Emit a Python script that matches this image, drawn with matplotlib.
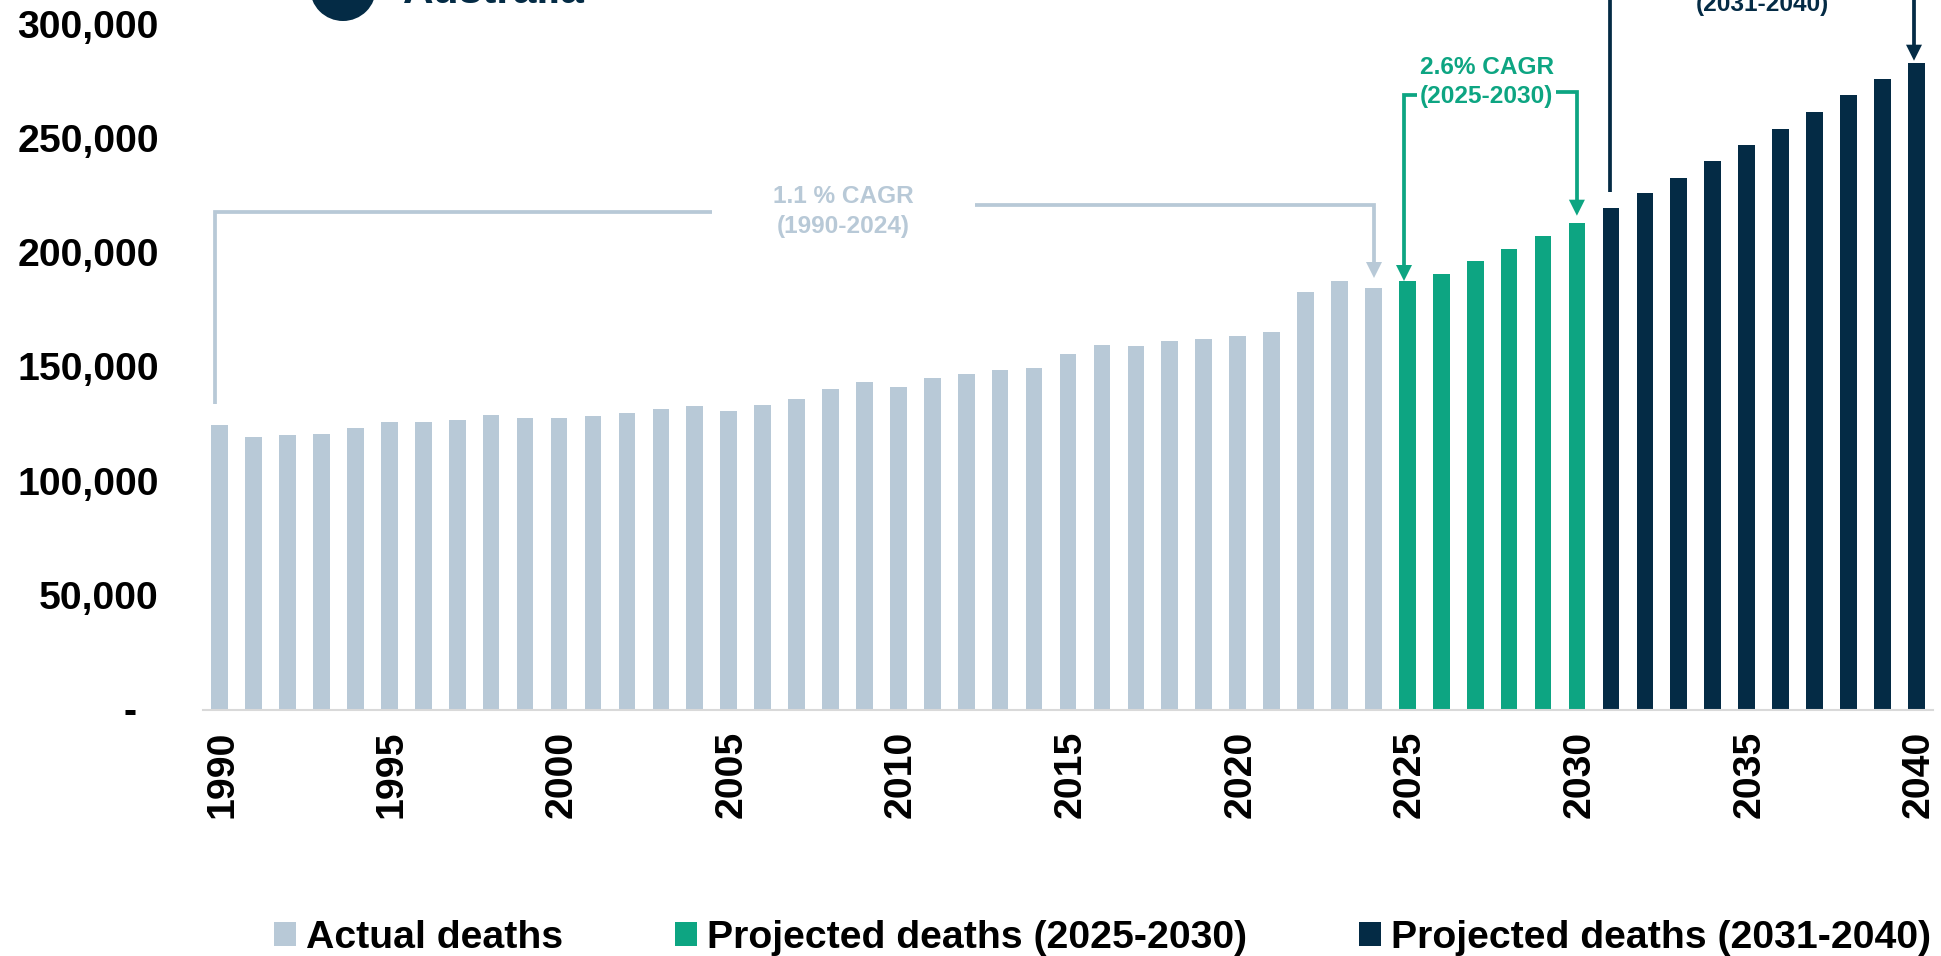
import matplotlib
matplotlib.use('Agg')
import matplotlib.pyplot as plt
import numpy as np
from matplotlib.lines import Line2D
from matplotlib.patches import Ellipse, Polygon
from matplotlib.transforms import Affine2D, ScaledTranslation

plt.rcParams['font.family'] = ['Liberation Sans', 'DejaVu Sans']
plt.rcParams['font.weight'] = 'bold'

years_actual = list(range(1990, 2025))
actual_deaths = [124900, 119500, 120500, 121000, 123300, 126000, 126200, 127000, 129000, 127900,
                 128000, 128800, 130000, 132000, 133000, 131000, 133700, 136000, 140500, 143500,
                 141300, 145300, 147200, 149000, 150000, 155800, 159700, 159200, 161500, 162500,
                 164000, 165500, 183100, 187900, 184700]
years_mid = list(range(2025, 2031))
mid_deaths = [188000, 191000, 196500, 201800, 207500, 213400]
years_late = list(range(2031, 2041))
late_deaths = [219700, 226400, 233200, 240300, 247500, 254600, 262000, 269300, 276400, 283500]

y_ticks = [0, 50000, 100000, 150000, 200000, 250000, 300000]
y_labels = ['-', '50,000', '100,000', '150,000', '200,000', '250,000', '300,000']
x_ticks = list(range(1990, 2041, 5))

GREY = '#b8c9d7'
GREEN = '#0da582'
NAVY = '#042b45'
W, H = 1941, 956
TICK_SIZE = 28.3

fig = plt.figure(figsize=(W / 100, H / 100), dpi=100)
ax = fig.add_axes([203.4 / W, (H - 710) / H, (1933.3 - 203.4) / W, 710 / H])

ax.bar(years_actual, actual_deaths, width=0.49, color=GREY, label='Actual deaths')
ax.bar(years_mid, mid_deaths, width=0.49, color=GREEN, label='Projected deaths (2025-2030)')
ax.bar(years_late, late_deaths, width=0.49, color=NAVY, label='Projected deaths (2031-2040)')

ax.set_xlim(1989.52, 2040.5)
ax.set_ylim(0, 300000 * 710 / 685)
for side in ['top', 'right', 'left']:
    ax.spines[side].set_visible(False)
ax.spines['bottom'].set_color('#d9d9d9')
ax.spines['bottom'].set_linewidth(1.5)

ax.set_yticks(y_ticks, y_labels, fontsize=TICK_SIZE)
ax.set_xticks(x_ticks, [str(y) for y in x_ticks], fontsize=TICK_SIZE, rotation=90)
ax.tick_params(axis='y', length=0, pad=32)
ax.tick_params(axis='x', length=0, pad=15)
for lab in ax.get_yticklabels():
    lab.set_verticalalignment('center_baseline')
    lab.set_transform(lab.get_transform() + ScaledTranslation(0, 1 / 100, fig.dpi_scale_trans))
# the dash sits further in than the numbers
dash = ax.get_yticklabels()[0]
dash.set_transform(dash.get_transform() + ScaledTranslation(-22 / 100, 0, fig.dpi_scale_trans))
# rotated years sit a little right of where matplotlib centres them
for lab in ax.get_xticklabels():
    lab.set_transform(lab.get_transform() + ScaledTranslation(2.5 / 100, 0, fig.dpi_scale_trans))

fig.legend(loc='lower left', bbox_to_anchor=(274 / W, (H - 956) / H), ncol=3, frameon=False,
           fontsize=TICK_SIZE, handlelength=0.56, handleheight=0.56, handletextpad=0.25,
           columnspacing=2.85, borderpad=0, borderaxespad=0)

# annotations are placed in picture pixels, measured from the top left corner
top_left = Affine2D().scale(1, -1).translate(0, H)


def path(xs, ys, color):
    fig.add_artist(Line2D(xs, ys, color=color, lw=2.7, solid_joinstyle='miter',
                          solid_capstyle='butt', transform=top_left))


def head(x, tip, color):
    fig.add_artist(Polygon([(x - 8, tip - 16), (x + 8, tip - 16), (x, tip)], closed=True,
                           color=color, lw=0, transform=top_left))


def label(x, y, text, color, size=17.6):
    fig.text(x, y, text, color=color, fontsize=size, ha='center', va='center', transform=top_left)


path([215.3, 215.3, 712], [404, 212, 212], GREY)
path([975.4, 1374, 1374], [205, 205, 266], GREY)
head(1374, 278, GREY)
label(843, 196.5, '1.1 % CAGR', GREY)
label(843, 226, '(1990-2024)', GREY)

path([1416.7, 1404, 1404], [94.5, 94.5, 270], GREEN)
head(1404, 281, GREEN)
path([1555.8, 1576.9, 1576.9], [92, 92, 205], GREEN)
head(1576.9, 215.7, GREEN)
label(1486.6, 67.5, '2.6% CAGR', GREEN)
label(1486.6, 97, '(2025-2030)', GREEN)

path([1609.5, 1609.5], [0, 191.7], NAVY)
path([1914, 1914], [0, 50], NAVY)
head(1914, 60.7, NAVY)
label(1762.5, 5, '(2031-2040)', NAVY)

# title block runs off the top of the picture
fig.add_artist(Ellipse((343, -12), 66, 66, color=NAVY, lw=0, transform=top_left))
fig.text(403, 3, 'Australia', color=NAVY, fontsize=30.5, ha='left', va='baseline', transform=top_left)

fig.savefig('out.png', dpi=100)
